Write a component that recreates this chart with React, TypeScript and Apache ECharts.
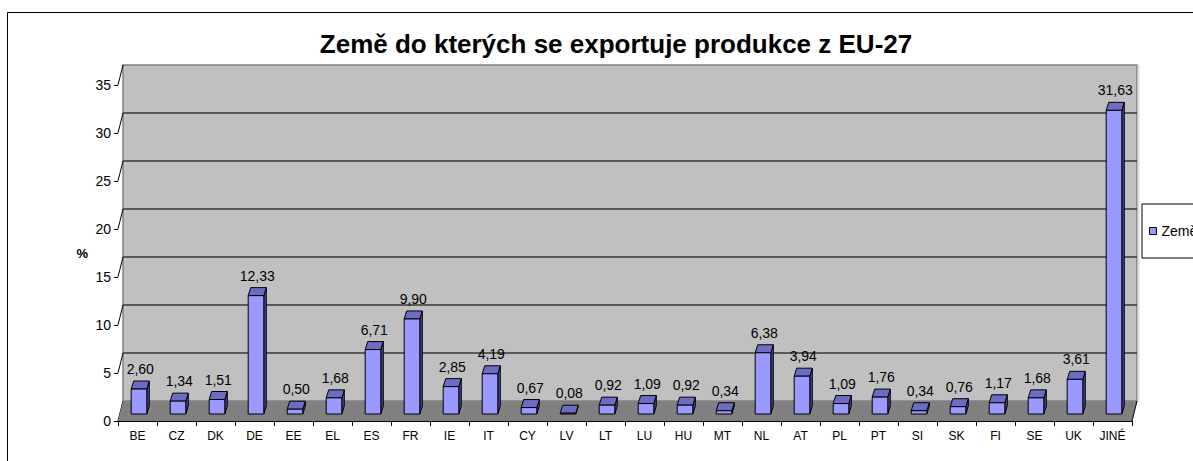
import React, { useEffect, useRef } from "react";
import * as echarts from "echarts";

const chartTitle = "Země do kterých se exportuje produkce z EU-27";
const seriesName = "Země";
const yAxisName = "%";
const categories = [
  "BE", "CZ", "DK", "DE", "EE", "EL", "ES", "FR", "IE", "IT", "CY", "LV", "LT",
  "LU", "HU", "MT", "NL", "AT", "PL", "PT", "SI", "SK", "FI", "SE", "UK", "JINÉ",
];
const values = [
  2.6, 1.34, 1.51, 12.33, 0.5, 1.68, 6.71, 9.9, 2.85, 4.19, 0.67, 0.08, 0.92,
  1.09, 0.92, 0.34, 6.38, 3.94, 1.09, 1.76, 0.34, 0.76, 1.17, 1.68, 3.61, 31.63,
];
const yMin = 0;
const yMax = 35;
const yInterval = 5;

const FONT = '"Liberation Sans", Arial, sans-serif';
const WALL_DX = 5;
const WALL_DY = -20;
const BAR_OX = 1.5;
const BAR_OY = -7;
const BAR_DX = 2.5;
const BAR_DY = -8;

const fmt = (v: number) => v.toFixed(2).replace(".", ",");

export default function App() {
  const ref = useRef<HTMLDivElement>(null);
  useEffect(() => {
    if (!ref.current) return;
    const chart = echarts.init(ref.current, null, { renderer: "svg" });

    const wallRender = (params: any, api: any) => {
      const cs = params.coordSys;
      const x = cs.x, y = cs.y, w = cs.width, h = cs.height;
      const children: any[] = [];
      children.push({
        type: "polygon",
        shape: { points: [[x, y], [x + WALL_DX, y + WALL_DY], [x + WALL_DX, y + h + WALL_DY], [x, y + h]] },
        style: { fill: "#ffffff" },
      });
      children.push({
        type: "rect",
        shape: { x: x + WALL_DX, y: y + WALL_DY, width: w, height: h },
        style: { fill: "#c0c0c0", stroke: "#808080", lineWidth: 1.5 },
      });
      children.push({
        type: "line",
        shape: { x1: x + w + WALL_DX + 1.5, y1: y + WALL_DY, x2: x + w + WALL_DX + 1.5, y2: y + h + WALL_DY },
        style: { stroke: "#dcdcdc", lineWidth: 2 },
      });
      for (let v = yMin + yInterval; v < yMax; v += yInterval) {
        const py = api.coord([0, v])[1];
        children.push({
          type: "line",
          shape: { x1: x + WALL_DX, y1: py + WALL_DY, x2: x + w + WALL_DX, y2: py + WALL_DY },
          style: { stroke: "#383838", lineWidth: 1.3 },
        });
      }
      for (let v = yMin; v <= yMax; v += yInterval) {
        const py = api.coord([0, v])[1];
        children.push({
          type: "line",
          shape: { x1: x, y1: py, x2: x + WALL_DX, y2: py + WALL_DY },
          style: { stroke: "#000", lineWidth: 1 },
        });
      }
      children.push({
        type: "polygon",
        shape: {
          points: [[x, y + h], [x + w, y + h], [x + w + WALL_DX, y + h + WALL_DY], [x + WALL_DX, y + h + WALL_DY]],
        },
        style: { fill: "#808080" },
      });
      children.push({
        type: "line",
        shape: { x1: x + w, y1: y + h, x2: x + w + WALL_DX, y2: y + h + WALL_DY },
        style: { stroke: "#000", lineWidth: 1 },
      });
      return { type: "group", children };
    };

    const barRender = (params: any, api: any) => {
      const i = api.value(0);
      const v = api.value(1);
      const top = api.coord([i, v]);
      const base = api.coord([i, 0]);
      const band = api.size([1, 0])[0];
      const bw = band * 0.4;
      const x0 = top[0] - bw / 2 + BAR_OX;
      const x1 = x0 + bw;
      const yt = top[1] + BAR_OY;
      const yb = base[1] + BAR_OY;
      const stroke = { stroke: "#000", lineWidth: 1, lineJoin: "round" };
      return {
        type: "group",
        children: [
          {
            type: "polygon",
            shape: { points: [[x1, yt], [x1 + BAR_DX, yt + BAR_DY], [x1 + BAR_DX, yb + BAR_DY], [x1, yb]] },
            style: { fill: "#4a4a94", ...stroke },
          },
          {
            type: "polygon",
            shape: { points: [[x0, yt], [x1, yt], [x1 + BAR_DX, yt + BAR_DY], [x0 + BAR_DX, yt + BAR_DY]] },
            style: { fill: "#6c6cc4", ...stroke },
          },
          {
            type: "rect",
            shape: { x: x0, y: yt, width: bw, height: yb - yt },
            style: { fill: "#9999ff", ...stroke },
          },
          {
            type: "text",
            x: (x0 + x1) / 2 + BAR_DX / 2,
            y: yt + BAR_DY - 5,
            style: {
              text: fmt(v),
              textAlign: "center",
              textVerticalAlign: "bottom",
              font: `14px ${FONT}`,
              fill: "#000",
            },
          },
        ],
      };
    };

    chart.setOption({
      animation: false,
      backgroundColor: "#ffffff",
      textStyle: { fontFamily: FONT },
      grid: { left: 118, right: 61, top: 85, bottom: 40, containLabel: false },
      graphic: [
        {
          type: "rect",
          shape: { x: 7.5, y: 12.5, width: 1400, height: 700 },
          style: { fill: "none", stroke: "#000", lineWidth: 1 },
          silent: true,
        },
        {
          type: "text",
          x: 616,
          y: 44,
          style: {
            text: chartTitle,
            textAlign: "center",
            textVerticalAlign: "middle",
            font: `bold 26px ${FONT}`,
            fill: "#000",
          },
        },
      ],
      legend: {
        data: [{ name: seriesName, icon: "rect" }],
        left: 1142,
        top: 204,
        orient: "vertical",
        padding: [20, 8, 20, 7],
        itemWidth: 7,
        itemHeight: 7,
        backgroundColor: "#ffffff",
        borderColor: "#000",
        borderWidth: 1,
        borderRadius: 0,
        itemStyle: { borderColor: "#000", borderWidth: 1 },
        textStyle: { fontSize: 14, fontFamily: FONT, color: "#000" },
      },
      xAxis: {
        type: "category",
        data: categories,
        axisLine: { lineStyle: { color: "#000", width: 1 } },
        axisTick: { show: true, length: 5, lineStyle: { color: "#000" } },
        axisLabel: { interval: 0, fontSize: 12, margin: 9, color: "#000", fontFamily: FONT },
        splitLine: { show: false },
      },
      yAxis: {
        type: "value",
        min: yMin,
        max: yMax,
        interval: yInterval,
        name: yAxisName,
        nameLocation: "middle",
        nameRotate: 0,
        nameGap: 30,
        nameTextStyle: { fontWeight: "bold", fontSize: 13, color: "#000", fontFamily: FONT },
        axisLine: { show: true, lineStyle: { color: "#000", width: 1 } },
        axisTick: { show: true, length: 4, lineStyle: { color: "#000" } },
        axisLabel: { fontSize: 14, margin: 7, color: "#000", fontFamily: FONT },
        splitLine: { show: false },
      },
      series: [
        {
          type: "custom",
          name: "walls",
          silent: true,
          z: 1,
          renderItem: wallRender,
          data: [[0, 0]],
          encode: { x: 0, y: 1 },
        },
        {
          type: "custom",
          name: seriesName,
          z: 3,
          itemStyle: { color: "#9999ff" },
          renderItem: barRender,
          data: values.map((v, i) => [i, v]),
          encode: { x: 0, y: 1 },
        },
      ],
    });
    return () => chart.dispose();
  }, []);

  return (
    <div
      ref={ref}
      style={{ position: "absolute", left: 0, top: 0, width: 1193, height: 461 }}
    />
  );
}
